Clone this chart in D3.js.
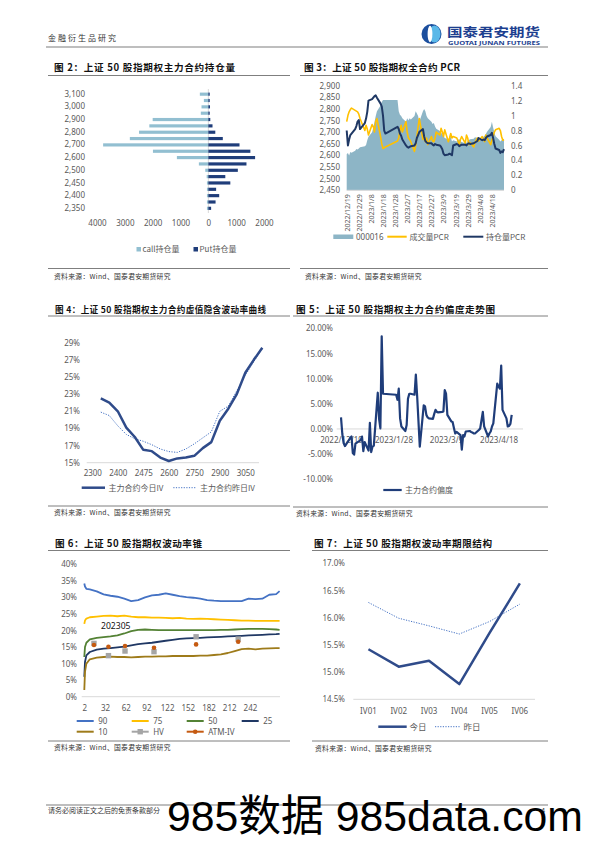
<!DOCTYPE html>
<html><head><meta charset="utf-8">
<script src="https://cdn.jsdelivr.net/npm/d3@7"></script>
<style>html,body{margin:0;padding:0;background:#fff;}svg{display:block;}</style>
</head><body>
<svg id="page" width="595" height="843"></svg>
<script>
// ---------- Fig 2 data ----------
const strikes2 = [3100,3050,3000,2950,2900,2850,2800,2750,2700,2650,2600,2550,2500,2475,2450,2425,2400,2375,2350];
const callOI   = [305,160,245,270,2000,2120,2490,2820,3780,1990,1130,340,110,60,50,50,50,50,50];
const putOI    = [50,50,60,50,70,150,250,520,1120,1510,1680,1370,1060,610,790,280,390,260,100];
const oiTicks  = [-4000,-3000,-2000,-1000,0,1000,2000];

// ---------- Fig 3 / Fig 5 data ----------
const tradeDates = ["2022-12-19","2022-12-20","2022-12-21","2022-12-22","2022-12-23","2022-12-26","2022-12-27","2022-12-28","2022-12-29","2022-12-30",
"2023-01-03","2023-01-04","2023-01-05","2023-01-06","2023-01-09","2023-01-10","2023-01-11","2023-01-12","2023-01-13","2023-01-16","2023-01-17","2023-01-18","2023-01-19","2023-01-20",
"2023-01-30","2023-01-31","2023-02-01","2023-02-02","2023-02-03","2023-02-06","2023-02-07","2023-02-08","2023-02-09","2023-02-10","2023-02-13","2023-02-14","2023-02-15","2023-02-16","2023-02-17",
"2023-02-20","2023-02-21","2023-02-22","2023-02-23","2023-02-24","2023-02-27","2023-02-28","2023-03-01","2023-03-02","2023-03-03","2023-03-06","2023-03-07","2023-03-08","2023-03-09","2023-03-10",
"2023-03-13","2023-03-14","2023-03-15","2023-03-16","2023-03-17","2023-03-20","2023-03-21","2023-03-22","2023-03-23","2023-03-24","2023-03-27","2023-03-28","2023-03-29","2023-03-30","2023-03-31",
"2023-04-03","2023-04-04","2023-04-06","2023-04-07","2023-04-10","2023-04-11","2023-04-12","2023-04-13","2023-04-14","2023-04-17","2023-04-18","2023-04-19","2023-04-20","2023-04-21",
"2023-04-24","2023-04-25","2023-04-26","2023-04-27","2023-04-28"];
const index50 = [2605,2610,2600,2615,2612, 2620,2628,2625,2630,2635, 2640,2645,2665,2680, 2700,2720,2745,2770,2790, 2815,2830,2838,2838,2838,
 2838,2790,2775,2770,2760, 2745,2760,2750,2760,2755, 2770,2790,2780,2770,2745, 2790,2800,2790,2770,2760, 2745,2735,2740,2725,2715,
 2705,2700,2690,2685,2675, 2670,2675,2680,2660,2665, 2660,2668,2670,2662,2658, 2652,2655,2662,2666,2670, 2672,2678,2675,2670,
 2672,2680,2685,2692,2702, 2722,2745,2720,2700,2682, 2668,2660,2665,2672,2664];
const pcrVolume = [0.92,1.00,1.05,1.08,1.10, 1.07,1.06,1.05,1.02,0.96, 0.80,0.87,0.82,0.74, 0.88,0.85,0.78,0.92,0.96, 0.72,0.62,0.56,0.57,0.58,
 0.66,0.70,0.80,0.87,0.78, 0.92,0.78,0.70,0.68,0.65, 0.52,0.60,0.72,0.85,0.96, 0.68,0.74,0.65,0.70,0.61, 0.72,0.66,0.65,0.70,0.78,
 0.74,0.83,0.78,0.72,0.81, 0.65,0.70,0.76,0.70,0.72, 0.70,0.66,0.61,0.68,0.72, 0.63,0.74,0.70,0.61,0.64, 0.58,0.64,0.70,0.66,
 0.72,0.68,0.65,0.74,0.70, 0.61,0.67,0.72,0.78,0.81, 0.83,0.80,0.72,0.67,0.68];
const pcrOI = [0.80,0.60,0.68,0.74,0.76, 0.82,0.86,0.92,0.94,0.82, 0.90,0.96,1.05,1.20, 1.22,1.24,1.26,1.27,1.24, 1.16,1.12,1.00,0.80,0.76,
 0.85,0.82,0.76,0.73,0.68, 0.60,0.58,0.57,0.58,0.59, 0.60,0.63,0.70,0.74,0.78, 0.82,0.72,0.66,0.64,0.63, 0.63,0.61,0.60,0.62,0.61,
 0.60,0.58,0.55,0.49,0.47, 0.48,0.49,0.48,0.47,0.60, 0.62,0.61,0.59,0.60,0.61, 0.61,0.60,0.62,0.63,0.62, 0.63,0.64,0.66,0.70,
 0.67,0.68,0.67,0.70,0.72, 0.74,0.77,0.70,0.62,0.56, 0.54,0.50,0.52,0.51,0.55];
const pcrTicks = ["2022-12-19","2022-12-29","2023-01-08","2023-01-18","2023-01-28","2023-02-07","2023-02-17","2023-02-27","2023-03-09","2023-03-19","2023-03-29","2023-04-08","2023-04-18"];
const skew = [2.3,-1.0,-2.8,-3.4,-3.0, -1.8,-1.5,-4.8,-5.1,-2.9, -2.2,-1.5,-4.4,-2.6, -4.3,1.2,-4.6,-3.5,-3.3, 7.2,2.0,0.1,18.4,7.0,
 6.8,5.8,8.0,2.1,0.5, -0.4,0.8,6.0,7.0,7.0, 6.8,10.8,6.5,1.5,-3.5, 4.7,4.5,2.8,2.3,2.1, 2.0,3.0,3.8,3.4,3.3,
 3.4,3.5,7.7,7.0,2.8, 1.5,1.4,0.2,-0.9,-0.6, -1.2,-4.1,-1.2,-1.5,-0.5, -0.4,-0.6,-0.7,-0.9,-0.9, -0.2,0.1,3.4,0.5,
 -1.5,-0.9,-0.5,0.5,1.1, 9.0,8.4,8.0,12.6,3.8, 2.1,0.5,0.6,1.0,2.8];
const skewTicks = ["2022-12-19","2023-01-28","2023-03-09","2023-04-18"];

// ---------- Fig 4 data ----------
const ivStrikes = ["2300","2350","2375","2400","2425","2450","2475","2500","2550","2600","2650","2700","2750","2800","2850","2900","2950","3000","3050","3100","3150"];
const ivToday     = [null,22.5,22.0,21.0,19.1,18.0,16.5,16.35,15.6,15.2,15.5,15.6,15.8,16.7,17.4,19.9,21.3,23.0,25.5,27.0,28.4];
const ivYesterday = [null,20.9,20.5,19.3,18.3,17.8,17.5,17.1,16.6,16.3,16.2,16.6,17.2,17.9,18.6,21.0,21.6,23.4,25.2,26.8,28.3];

// ---------- Fig 6 data ----------
const coneDays = [2,3,5,10,20,30,40,50,60,70,80,90,100,110,120,130,140,150,160,170,180,190,200,210,220,230,240,250,260,270,280,285];
const cone90 = [34.2,33.3,32.6,32.4,31.8,30.9,30.5,30.2,29.6,28.9,29.2,30.0,30.6,30.8,31.2,30.8,30.4,30.1,29.9,29.6,29.2,29.0,28.9,28.9,28.9,28.9,29.6,29.5,29.6,30.8,31.0,31.9];
const cone75 = [22.0,23.0,23.6,24.0,24.2,24.4,24.5,24.3,24.5,24.2,24.0,24.0,23.9,23.9,23.8,23.7,23.8,23.6,23.5,23.6,23.5,23.4,23.3,23.2,23.1,23.0,23.0,22.9,22.9,22.9,22.9,22.9];
const cone50 = [12.0,15.0,16.3,17.3,17.8,18.0,18.2,18.5,19.1,19.8,20.2,20.3,20.2,20.1,20.1,20.1,20.1,20.1,20.1,20.1,20.1,20.1,20.2,20.2,20.3,20.4,20.5,20.5,20.5,20.4,20.3,20.2];
const cone25 = [6.0,10.5,12.5,13.5,14.2,14.5,14.7,14.9,15.1,15.5,15.9,16.1,16.3,16.6,16.9,17.2,17.5,17.6,17.7,17.8,17.9,18.0,18.1,18.2,18.3,18.4,18.5,18.6,18.7,18.8,18.9,19.0];
const cone10 = [2.0,7.5,10.0,11.3,11.8,12.0,12.1,12.0,12.0,11.9,12.0,12.1,12.1,12.2,12.2,12.3,12.3,12.3,12.3,12.4,12.4,12.6,12.8,13.2,13.8,14.4,14.5,14.3,14.5,14.6,14.7,14.7];
const pointDays = [16,37,61,103,164,225];
const hvValues  = [16.1,12.4,13.8,13.6,18.1,17.4];
const atmValues = [15.6,15.1,15.3,14.8,15.8,16.6];
const coneTicks = [2,32,62,92,122,152,182,212,242];

// ---------- Fig 7 data ----------
const termLabels = ["IV01","IV02","IV03","IV04","IV05","IV06"];
const termToday = [15.42,15.10,15.21,14.78,15.72,16.63];
const termYesterday = [16.28,15.99,15.85,15.70,15.93,16.25];

// ================= drawing =================
const svg = d3.select("#page");
svg.append("rect").attr("width",595).attr("height",843).attr("fill","#fff");
const CJK = "'Noto Sans CJK SC','Noto Sans',sans-serif";
const LAT = "'Noto Sans','Noto Sans CJK SC',sans-serif";
const AX = "#595959";
const parse = d3.timeParse("%Y-%m-%d");
const dates = tradeDates.map(parse);

function text(x,y,s,o={}){
  const t = svg.append("text").attr("x",x).attr("y",y).text(s)
    .attr("font-family",o.ff||CJK).attr("font-size",o.fs||8)
    .attr("fill",o.fill||AX).attr("text-anchor",o.anchor||"start")
    .attr("font-weight",o.fw||"normal");
  if(o.ls) t.attr("letter-spacing",o.ls);
  if(o.len) t.attr("textLength",o.len).attr("lengthAdjust",o.adj||"spacingAndGlyphs");
  return t;
}
function hline(x1,x2,y,c,w){ svg.append("line").attr("x1",x1).attr("x2",x2).attr("y1",y).attr("y2",y).attr("stroke",c||"#808080").attr("stroke-width",w||1); }
function seg(x1,x2,y,c,w,dash){ const l=svg.append("line").attr("x1",x1).attr("x2",x2).attr("y1",y).attr("y2",y).attr("stroke",c).attr("stroke-width",w); if(dash) l.attr("stroke-dasharray",dash); }
function styleAxis(g,fs){ g.select(".domain").remove(); g.selectAll("text").attr("font-family",LAT).attr("font-size",fs||8).attr("fill",AX); g.selectAll("line").remove(); }
function title(x,y,s,len,u1,u2,uy,fs){ text(x,y,s,{fs:fs||9.6,fill:"#111",fw:"bold",len:len,adj:"spacing"}); hline(u1,u2,uy,"#7f7f7f",1); }
function source(x,y,l1,l2,ly){ hline(l1,l2,ly,"#7f7f7f",1); text(x,y,"资料来源：Wind、国泰君安期货研究",{fs:6.8,fill:"#333",ls:0.3}); }

// Header
text(48,41,"金融衍生品研究",{fs:8,fill:"#333",ls:2});
hline(46,548,47,"#7f7f7f",1.2);
svg.append("ellipse").attr("cx",431.5).attr("cy",34).attr("rx",10).attr("ry",10).attr("fill","#1c4f9e");
svg.append("ellipse").attr("cx",434.5).attr("cy",34).attr("rx",6).attr("ry",8.6).attr("fill","#5ab8e8");
svg.append("ellipse").attr("cx",430).attr("cy",34).attr("rx",2.4).attr("ry",8.2).attr("fill","#fff");
text(447,37.3,"国泰君安期货",{fs:12.5,fw:"bold",fill:"#1d3f8f",len:93});
text(448,45.2,"GUOTAI JUNAN FUTURES",{fs:4.4,fw:"bold",fill:"#1d3f8f",ff:LAT,len:92});

// ================= Fig 2 =================
title(54,71,"图 2：上证 50 股指期权主力合约持仓量",181,48,290,75.5);
{
  const x = d3.scaleLinear().domain([-4000,2000]).range([97,264]);
  const y = d3.scaleBand().domain(strikes2).range([91,211.5]).paddingInner(0.5).paddingOuter(0.25);
  svg.append("line").attr("x1",x(0)).attr("x2",x(0)).attr("y1",89).attr("y2",213).attr("stroke","#d9d9d9");
  svg.append("g").selectAll("rect").data(strikes2).join("rect")
    .attr("x",(d,i)=>x(-callOI[i])).attr("y",d=>y(d)).attr("height",y.bandwidth())
    .attr("width",(d,i)=>x(0)-x(-callOI[i])).attr("fill","#92bfd1");
  svg.append("g").selectAll("rect").data(strikes2).join("rect")
    .attr("x",x(0)).attr("y",d=>y(d)).attr("height",y.bandwidth())
    .attr("width",(d,i)=>x(putOI[i])-x(0)).attr("fill","#1f3d7a");
  const gy = svg.append("g").attr("transform","translate(85,0)")
    .call(d3.axisLeft(y).tickValues(strikes2.filter((d,i)=>i%2===0)).tickFormat(d3.format(",")).tickSize(0).tickPadding(0));
  styleAxis(gy,8);
  const gx = svg.append("g").attr("transform","translate(0,217)")
    .call(d3.axisBottom(x).tickValues(oiTicks).tickFormat(d=>Math.abs(d)).tickSize(0).tickPadding(3));
  styleAxis(gx,8);
  svg.append("rect").attr("x",136.5).attr("y",247).attr("width",4.5).attr("height",4.5).attr("fill","#92bfd1");
  text(142.5,252.3,"call持仓量",{fs:8});
  svg.append("rect").attr("x",193.5).attr("y",247).attr("width",4.5).attr("height",4.5).attr("fill","#1f3d7a");
  text(199.5,252.3,"Put持仓量",{fs:8});
}
source(54,278.5,48,290,268.5);

// ================= Fig 3 =================
title(304,71,"图 3：上证 50 股指期权全合约 PCR",156,300,548,75.5);
{
  const x = d3.scaleTime().domain([parse("2022-12-19"),parse("2023-04-28")]).range([346.7,504]);
  const yL = d3.scaleLinear().domain([2450,2900]).range([190.3,85.7]);
  const yR = d3.scaleLinear().domain([0,1.4]).range([190.3,85.7]);
  const area = d3.area().x((d,i)=>x(dates[i])).y0(yL(2450)).y1(d=>yL(d));
  svg.append("path").datum(index50).attr("d",area).attr("fill","#8db5c6");
  const line = d3.line().x((d,i)=>x(dates[i])).y(d=>yR(d));
  svg.append("path").datum(pcrVolume).attr("d",line).attr("fill","none").attr("stroke","#ffc000").attr("stroke-width",1.6).attr("stroke-linejoin","round");
  svg.append("path").datum(pcrOI).attr("d",line).attr("fill","none").attr("stroke","#1f3864").attr("stroke-width",2).attr("stroke-linejoin","round");
  hline(346.7,504,190.3,"#d9d9d9",1);
  const gl = svg.append("g").attr("transform","translate(340,0)")
    .call(d3.axisLeft(yL).tickValues(d3.range(2450,2901,50)).tickSize(0).tickPadding(0));
  styleAxis(gl,8);
  const gr = svg.append("g").attr("transform","translate(511,0)")
    .call(d3.axisRight(yR).tickValues([0,0.2,0.4,0.6,0.8,1,1.2,1.4]).tickFormat(d=>String(+d.toFixed(1))).tickSize(0).tickPadding(0));
  styleAxis(gr,8);
  const gx = svg.append("g").attr("transform","translate(0,190.3)")
    .call(d3.axisBottom(x).tickValues(pcrTicks.map(parse)).tickFormat(d3.timeFormat("%Y/%-m/%-d")).tickSize(0));
  styleAxis(gx,7);
  gx.selectAll("text").attr("transform","rotate(-90)").attr("text-anchor","end").attr("x",-4).attr("y",0).attr("dy","0.35em");
  svg.append("rect").attr("x",333.3).attr("y",234.5).attr("width",20).attr("height",4.5).attr("fill","#8db5c6");
  text(356,239.8,"000016",{fs:8,ff:LAT});
  seg(387.3,406.7,236.7,"#ffc000",2);
  text(409.5,239.8,"成交量PCR",{fs:8});
  seg(463.3,483.3,236.7,"#1f3864",2);
  text(486,239.8,"持仓量PCR",{fs:8});
}
source(305,278.5,300,548,268.5);

// ================= Fig 4 =================
title(55,312.5,"图 4：上证 50 股指期权主力合约虚值隐含波动率曲线",211,48,290,316,8.6);
{
  const x = d3.scalePoint().domain(ivStrikes).range([92.3,262.3]);
  const y = d3.scaleLinear().domain([15,29]).range([462.7,342.7]);
  hline(86.7,259,462.7,"#d9d9d9",1);
  const line = d3.line().defined(d=>d!=null).x((d,i)=>x(ivStrikes[i])).y(d=>y(d)).curve(d3.curveLinear);
  svg.append("path").datum(ivYesterday).attr("d",line).attr("fill","none").attr("stroke","#4472c4").attr("stroke-width",1).attr("stroke-dasharray","1.2,1.4");
  svg.append("path").datum(ivToday).attr("d",line).attr("fill","none").attr("stroke","#2f4b8a").attr("stroke-width",2.5).attr("stroke-linejoin","round");
  const gy = svg.append("g").attr("transform","translate(80,0)")
    .call(d3.axisLeft(y).tickValues(d3.range(15,30,2)).tickFormat(d=>d+"%").tickSize(0).tickPadding(0));
  styleAxis(gy,8);
  const gx = svg.append("g").attr("transform","translate(0,462.7)")
    .call(d3.axisBottom(x).tickValues(ivStrikes.filter((d,i)=>i%3===0&&i<=18)).tickSize(0).tickPadding(7.5));
  styleAxis(gx,8);
  seg(81.7,105,487.7,"#2f4b8a",2.5);
  text(108.5,490.5,"主力合约今日IV",{fs:8});
  seg(173.3,196.7,487.7,"#4472c4",1,"1.2,1.4");
  text(200,490.5,"主力合约昨日IV",{fs:8});
}
source(54,515,48,290,506);

// ================= Fig 5 =================
title(296,312.5,"图 5：上证 50 股指期权主力合约偏度走势图",199,293,548,316);
{
  const x = d3.scaleTime().domain([parse("2022-12-19"),parse("2023-04-28")]).range([341,511.7]);
  const y = d3.scaleLinear().domain([-10,20]).range([479.3,328.3]);
  hline(336.7,523,y(0),"#d9d9d9",1);
  const gy = svg.append("g").attr("transform","translate(333,0)")
    .call(d3.axisLeft(y).tickValues(d3.range(-10,21,5)).tickFormat(d=>d.toFixed(2)+"%").tickSize(0).tickPadding(0));
  styleAxis(gy,8);
  const gx = svg.append("g").attr("transform",`translate(0,${y(0)})`)
    .call(d3.axisBottom(x).tickValues(skewTicks.map(parse)).tickFormat(d3.timeFormat("%Y/%-m/%-d")).tickSize(0).tickPadding(8.5));
  styleAxis(gx,8);
  const line = d3.line().x((d,i)=>x(dates[i])).y(d=>y(d));
  svg.append("path").datum(skew).attr("d",line).attr("fill","none").attr("stroke","#1f3d7a").attr("stroke-width",2.2).attr("stroke-linejoin","round");
  seg(383.3,401.7,490,"#1f3d7a",2.2);
  text(405,493,"主力合约偏度",{fs:8});
}
source(296,516,293,548,507);

// ================= Fig 6 =================
title(55,547,"图 6：上证 50 股指期权波动率锥",147,48,290,550.5);
{
  const x = d3.scaleLinear().domain([2,285]).range([84.3,279.6]);
  const y = d3.scaleLinear().domain([0,40]).range([696.7,564.3]);
  hline(81.7,280,696.7,"#d9d9d9",1);
  const gy = svg.append("g").attr("transform","translate(77,0)")
    .call(d3.axisLeft(y).tickValues(d3.range(0,41,5)).tickFormat(d=>d+"%").tickSize(0).tickPadding(0));
  styleAxis(gy,8);
  const gx = svg.append("g").attr("transform","translate(0,696.7)")
    .call(d3.axisBottom(x).tickValues(coneTicks).tickSize(0).tickPadding(9));
  styleAxis(gx,8);
  const series = [[cone90,"#4472c4"],[cone75,"#ffc000"],[cone50,"#548235"],[cone25,"#203864"],[cone10,"#9e7b1a"]];
  const line = d3.line().x((d,i)=>x(coneDays[i])).y(d=>y(d));
  series.forEach(([vals,c])=>{
    svg.append("path").datum(vals).attr("d",line).attr("fill","none").attr("stroke",c).attr("stroke-width",1.8).attr("stroke-linejoin","round");
  });
  svg.append("g").selectAll("rect").data(hvValues).join("rect")
    .attr("x",(d,i)=>x(pointDays[i])-2.7).attr("y",d=>y(d)-2.7).attr("width",5.4).attr("height",5.4).attr("fill","#a5a5a5");
  svg.append("g").selectAll("circle").data(atmValues).join("circle")
    .attr("cx",(d,i)=>x(pointDays[i])).attr("cy",d=>y(d)).attr("r",2.3).attr("fill","#c55a11");
  text(101,629,"202305",{fs:8.6,fill:"#111",ff:LAT});
  const leg = [["90","#4472c4",76.7,721],["75","#ffc000",131.7,721],["50","#548235",186.7,721],["25","#203864",241.7,721],
               ["10","#9e7b1a",76.7,731.7],["HV","#a5a5a5",131.7,731.7],["ATM-IV","#c55a11",186.7,731.7]];
  leg.forEach(([lab,c,lx,ly])=>{
    seg(lx,lx+17,ly,c,2);
    if(lab==="HV") svg.append("rect").attr("x",lx+8.5-2.7).attr("y",ly-2.7).attr("width",5.4).attr("height",5.4).attr("fill",c);
    if(lab==="ATM-IV") svg.append("circle").attr("cx",lx+8.5).attr("cy",ly).attr("r",2.3).attr("fill",c);
    text(lx+21.5,ly+2.8,lab,{fs:8,ff:LAT});
  });
}
source(54,749.5,48,290,741);

// ================= Fig 7 =================
title(314,547,"图 7：上证 50 股指期权波动率期限结构",178,312,548,550.5);
{
  const x = d3.scaleBand().domain(termLabels).range([353.3,535]);
  const y = d3.scaleLinear().domain([14.5,17]).range([699.3,563.3]);
  hline(353.3,535,699.3,"#d9d9d9",1);
  const gy = svg.append("g").attr("transform","translate(345,0)")
    .call(d3.axisLeft(y).tickValues([14.5,15,15.5,16,16.5,17]).tickFormat(d=>d.toFixed(1)+"%").tickSize(0).tickPadding(0));
  styleAxis(gy,8);
  const gx = svg.append("g").attr("transform","translate(0,699.3)")
    .call(d3.axisBottom(x).tickSize(0).tickPadding(9));
  styleAxis(gx,8);
  const line = d3.line().x((d,i)=>x(termLabels[i])+x.bandwidth()/2).y(d=>y(d));
  svg.append("path").datum(termYesterday).attr("d",line).attr("fill","none").attr("stroke","#4472c4").attr("stroke-width",1).attr("stroke-dasharray","1.2,1.4");
  svg.append("path").datum(termToday).attr("d",line).attr("fill","none").attr("stroke","#2f4b8a").attr("stroke-width",2.5).attr("stroke-linejoin","round");
  seg(378.3,406.7,726.7,"#2f4b8a",2.5);
  text(409.5,729.6,"今日",{fs:8.5});
  seg(435,460,726.7,"#4472c4",1,"1.2,1.4");
  text(463.5,729.6,"昨日",{fs:8.5});
}
source(315,751,312,548,741);

// Footer
hline(46,548,805,"#7f7f7f",1.2);
text(48,812.5,"请务必阅读正文之后的免责条款部分",{fs:7,fill:"#333"});
text(541,812.5,"4",{fs:7,fill:"#333",ff:LAT});
text(167,831,"985数据 985data.com",{fs:43,fill:"#000",ff:"'Liberation Sans','Noto Sans CJK SC',sans-serif",len:416});
</script>
</body></html>
